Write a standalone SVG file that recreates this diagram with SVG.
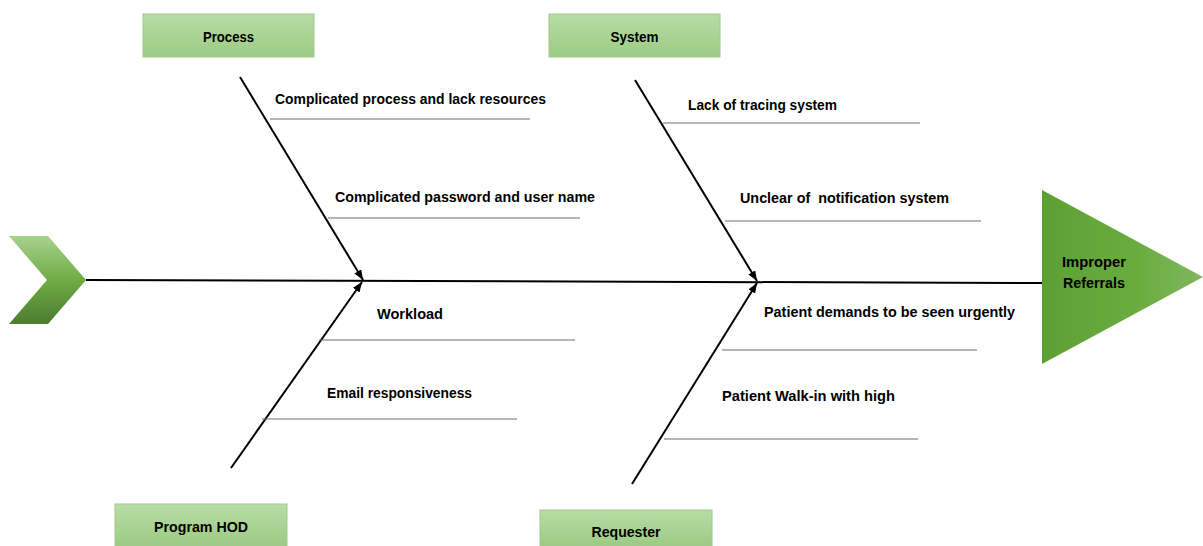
<svg xmlns="http://www.w3.org/2000/svg" width="1203" height="546" viewBox="0 0 1203 546">
<defs>
<linearGradient id="boxG" x1="0" y1="0" x2="0" y2="1">
<stop offset="0" stop-color="#b8dca6"/>
<stop offset="1" stop-color="#9ccb84"/>
</linearGradient>
<linearGradient id="chevG" x1="0" y1="0" x2="0" y2="1">
<stop offset="0" stop-color="#a9d18e"/>
<stop offset="0.5" stop-color="#6fac45"/>
<stop offset="1" stop-color="#4b7c2f"/>
</linearGradient>
<linearGradient id="triG" x1="0" y1="0" x2="1" y2="0">
<stop offset="0" stop-color="#5c9f33"/>
<stop offset="0.6" stop-color="#6aad3f"/>
<stop offset="1" stop-color="#80b75f"/>
</linearGradient>
<marker id="arr" markerUnits="userSpaceOnUse" markerWidth="12" markerHeight="10" refX="10" refY="4" orient="auto">
<path d="M0,0 L10,4 L0,8 Z" fill="#000"/>
</marker>
<style>
.box{fill:url(#boxG);stroke:#a2c98c;stroke-width:1}
.t{font-family:"Liberation Sans",Arial,sans-serif;font-weight:bold;font-size:14px;fill:#000}
.bone{stroke:#000;stroke-width:2;fill:none}
.sub{stroke:#6e6e6e;stroke-width:1.2;fill:none}
</style>
</defs>
<rect width="1203" height="546" fill="#fff"/>
<g id="connectors">
<line class="bone" x1="86" y1="280" x2="1043" y2="283"/>
<line class="bone" x1="240" y1="77" x2="363" y2="280" marker-end="url(#arr)"/>
<line class="bone" x1="231" y1="468" x2="362" y2="282" marker-end="url(#arr)"/>
<line class="bone" x1="635" y1="80" x2="757" y2="281" marker-end="url(#arr)"/>
<line class="bone" x1="632" y1="484" x2="757" y2="283" marker-end="url(#arr)"/>
<line class="sub" x1="270" y1="119" x2="530" y2="119"/>
<line class="sub" x1="328" y1="218" x2="580" y2="218"/>
<line class="sub" x1="319" y1="340" x2="575" y2="340"/>
<line class="sub" x1="262" y1="419" x2="517" y2="419"/>
<line class="sub" x1="663" y1="123" x2="920" y2="123"/>
<line class="sub" x1="725" y1="221" x2="981" y2="221"/>
<line class="sub" x1="722" y1="350" x2="977" y2="350"/>
<line class="sub" x1="664" y1="439" x2="918" y2="439"/>
</g>
<g id="tail">
<polygon points="9,236 48,236 86,280 48,324 9,324 47,280" fill="url(#chevG)"/>
</g>
<g id="head">
<polygon points="1042,190 1203,277 1042,364" fill="url(#triG)"/>
<text class="t" x="1094" y="267" text-anchor="middle" textLength="64" lengthAdjust="spacingAndGlyphs">Improper</text>
<text class="t" x="1094" y="288" text-anchor="middle" textLength="62" lengthAdjust="spacingAndGlyphs">Referrals</text>
</g>
<g id="process">
<rect class="box" x="143" y="14" width="171" height="43"/>
<text class="t" x="228.5" y="42" text-anchor="middle" textLength="51" lengthAdjust="spacingAndGlyphs">Process</text>
</g>
<g id="system">
<rect class="box" x="549" y="14" width="171" height="43"/>
<text class="t" x="634.5" y="42" text-anchor="middle" textLength="48" lengthAdjust="spacingAndGlyphs">System</text>
</g>
<g id="programhod">
<rect class="box" x="115" y="504" width="172" height="42"/>
<text class="t" x="201" y="532" text-anchor="middle" textLength="94" lengthAdjust="spacingAndGlyphs">Program HOD</text>
</g>
<g id="requester">
<rect class="box" x="540" y="510" width="172" height="36"/>
<text class="t" x="626" y="537" text-anchor="middle" textLength="69" lengthAdjust="spacingAndGlyphs">Requester</text>
</g>
<g id="causes">
<text class="t" x="275" y="104" textLength="271" lengthAdjust="spacingAndGlyphs">Complicated process and lack resources</text>
<text class="t" x="335" y="202" textLength="260" lengthAdjust="spacingAndGlyphs">Complicated password and user name</text>
<text class="t" x="377" y="319" textLength="66" lengthAdjust="spacingAndGlyphs">Workload</text>
<text class="t" x="327" y="398" textLength="145" lengthAdjust="spacingAndGlyphs">Email responsiveness</text>
<text class="t" x="688" y="110" textLength="149" lengthAdjust="spacingAndGlyphs">Lack of tracing system</text>
<text class="t" x="740" y="203" textLength="209" lengthAdjust="spacingAndGlyphs" xml:space="preserve">Unclear of  notification system</text>
<text class="t" x="764" y="317" textLength="251" lengthAdjust="spacingAndGlyphs">Patient demands to be seen urgently</text>
<text class="t" x="722" y="401" textLength="173" lengthAdjust="spacingAndGlyphs">Patient Walk-in with high</text>
</g>
</svg>
